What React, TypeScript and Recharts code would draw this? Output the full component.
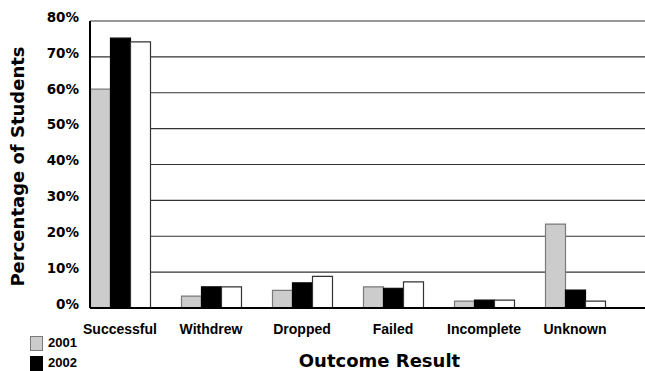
import React from 'react';
import { BarChart, Bar, XAxis, YAxis, CartesianGrid, Legend } from 'recharts';

const categories = ['Successful', 'Withdrew', 'Dropped', 'Failed', 'Incomplete', 'Unknown'];
const series2001 = [61, 3.3, 4.9, 5.9, 1.9, 23.4];
const series2002 = [75.2, 5.9, 7.0, 5.5, 2.2, 5.0];
const series2003 = [74.2, 5.9, 8.8, 7.3, 2.2, 1.9];
const yTicks = [0, 10, 20, 30, 40, 50, 60, 70, 80];
const seriesNames = { s2001: '2001', s2002: '2002', s2003: '2003' };

const data = categories.map((c, i) => ({
  category: c,
  s2001: series2001[i],
  s2002: series2002[i],
  s2003: series2003[i],
}));

const FILLS: Record<string, string> = { s2001: '#cccccc', s2002: '#000000', s2003: '#ffffff' };
const STROKES: Record<string, string> = { s2001: '#7a7a7a', s2002: '#000000', s2003: '#333333' };

const LegendContent = (props: any) => {
  const items = (props.payload || []).filter((p: any) => p.dataKey !== 's2003');
  return (
    <div style={{ height: 38, width: 70 }}>
      {items.map((p: any) => (
        <div key={p.value} style={{ display: 'flex', alignItems: 'center', height: 20 }}>
          <div
            style={{
              width: 11,
              height: 13,
              background: FILLS[p.dataKey],
              border: `1px solid ${STROKES[p.dataKey]}`,
            }}
          />
          <span
            style={{
              marginLeft: 5,
              fontFamily: '"Liberation Sans", Arial, sans-serif',
              fontWeight: 'bold',
              fontSize: 13,
              color: '#000',
              lineHeight: '14px',
            }}
          >
            {p.value}
          </span>
        </div>
      ))}
    </div>
  );
};

export default function App() {
  return (
    <div style={{ position: 'absolute', left: 0, top: 0, width: 645, height: 371, background: '#fff' }}>
      <BarChart
        width={645}
        height={371}
        data={data}
        margin={{ top: 21, right: 0, bottom: 0, left: 0 }}
        barGap={0}
      >
        <CartesianGrid vertical={false} stroke="#333333" strokeWidth={1.2} />
        <XAxis
          dataKey="category"
          height={25}
          padding={{ left: -15.5, right: 24.5 }}
          axisLine={{ stroke: '#000', strokeWidth: 2 }}
          tickLine={false}
          tickSize={6}
          tickMargin={10}
          interval={0}
          tick={{ fill: '#000', fontSize: 14, fontWeight: 'bold', fontFamily: '"Liberation Sans", Arial, sans-serif' }}
          label={{
            value: 'Outcome Result',
            position: 'center',
            dx: 12,
            dy: 40,
            fill: '#000',
            fontSize: 18,
            fontWeight: 'bold',
            fontFamily: '"DejaVu Sans", sans-serif',
          }}
        />
        <YAxis
          width={90}
          domain={[0, 80]}
          ticks={yTicks}
          interval={0}
          tickFormatter={(v: number) => `${v}%`}
          axisLine={{ stroke: '#000', strokeWidth: 2 }}
          tickLine={false}
          tickSize={6}
          tickMargin={5}
          tick={{ fill: '#000', fontSize: 13.5, fontWeight: 'bold', fontFamily: '"DejaVu Sans", sans-serif', dy: -4 }}
          label={{
            value: 'Percentage of Students',
            angle: -90,
            position: 'center',
            dx: -27,
            dy: 2,
            fill: '#000',
            fontSize: 18,
            fontWeight: 'bold',
            fontFamily: '"DejaVu Sans", sans-serif',
          }}
        />
        <Legend
          layout="horizontal"
          verticalAlign="bottom"
          align="left"
          content={LegendContent}
          wrapperStyle={{ left: 30, top: 333, width: 70, height: 38 }}
        />
        <Bar dataKey="s2001" name={seriesNames.s2001} fill={FILLS.s2001} stroke={STROKES.s2001} strokeWidth={1.2} barSize={20} isAnimationActive={false} />
        <Bar dataKey="s2002" name={seriesNames.s2002} fill={FILLS.s2002} stroke={STROKES.s2002} strokeWidth={1.2} barSize={20} isAnimationActive={false} />
        <Bar dataKey="s2003" name={seriesNames.s2003} fill={FILLS.s2003} stroke={STROKES.s2003} strokeWidth={1.2} barSize={20} legendType="none" isAnimationActive={false} />
      </BarChart>
    </div>
  );
}
